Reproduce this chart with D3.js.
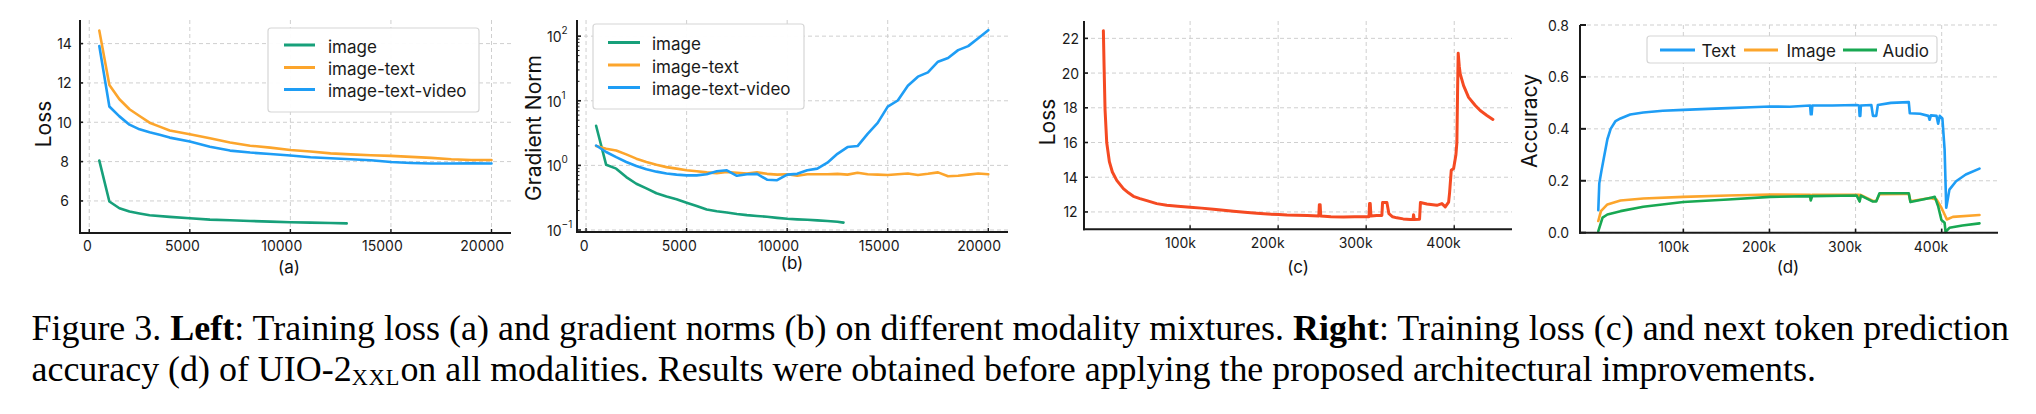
<!DOCTYPE html>
<html>
<head>
<meta charset="utf-8">
<script src="https://cdn.jsdelivr.net/npm/d3@7/dist/d3.min.js"></script>
<style>
  body { margin: 0; background: #fff; }
  svg { display: block; }
  .tick-label { font-family: Inter, 'Noto Sans', sans-serif; font-size: 14px; fill: #1a1a1a; }
  .axis-title { font-family: Inter, 'Noto Sans', sans-serif; font-size: 21px; fill: #111; }
  .sub-label { font-family: Inter, 'Noto Sans', sans-serif; font-size: 17px; fill: #111; }
  .legend-text { font-family: Inter, 'Noto Sans', sans-serif; font-size: 17px; fill: #1a1a1a; }
  .caption { font-family: 'Liberation Serif', 'DejaVu Serif', serif; fill: #000; }
</style>
</head>
<body>
<svg id="fig" width="2036" height="414"></svg>
<script>
////////// Dados

// (a) training loss, modality mixtures
const stepsA = [500, 1000, 1500, 2000, 2500, 3000, 3500, 4000, 5000, 6000, 7000, 8000,
                9000, 10000, 11000, 12000, 13000, 14000, 15000, 16000, 17000, 18000, 19000, 20000];
const lossImageText = [14.66, 11.9, 11.17, 10.66, 10.32, 9.98, 9.78, 9.58, 9.39, 9.19, 8.97, 8.81,
                       8.71, 8.59, 8.51, 8.42, 8.37, 8.32, 8.29, 8.24, 8.19, 8.12, 8.08, 8.08];
const lossImageTextVideo = [13.88, 10.8, 10.3, 9.88, 9.64, 9.49, 9.36, 9.22, 9.02, 8.76, 8.56, 8.46,
                            8.39, 8.31, 8.22, 8.17, 8.12, 8.07, 7.98, 7.93, 7.9, 7.9, 7.92, 7.9];
const stepsImage = [500, 1000, 1500, 2000, 2500, 3000, 4000, 5000, 6000, 7000, 8000, 9000,
                    10000, 11000, 12000, 12800];
const lossImage = [8.05, 5.97, 5.63, 5.46, 5.36, 5.27, 5.19, 5.12, 5.05, 5.02, 4.98, 4.95,
                   4.92, 4.9, 4.88, 4.86];

// (b) gradient norm
const stepsB = [500, 1000, 1500, 2000, 2500, 3000, 3500, 4000, 4500, 5000,
                5500, 6000, 6500, 7000, 7500, 8000, 8500, 9000, 9500, 10000,
                10500, 11000, 11500, 12000, 12500, 13000, 13500, 14000, 14500, 15000,
                15500, 16000, 16500, 17000, 17500, 18000, 18500, 19000, 19500, 20000];
const gradImageText = [1.99, 1.81, 1.70, 1.48, 1.27, 1.13, 1.02, 0.94, 0.89, 0.84,
                       0.81, 0.78, 0.76, 0.79, 0.77, 0.75, 0.78, 0.74, 0.72, 0.73,
                       0.69, 0.73, 0.73, 0.73, 0.74, 0.72, 0.77, 0.73, 0.72, 0.71,
                       0.73, 0.75, 0.71, 0.74, 0.78, 0.68, 0.69, 0.72, 0.75, 0.73];
const gradImageTextVideo = [2.03, 1.61, 1.34, 1.13, 0.98, 0.87, 0.80, 0.75, 0.72, 0.70,
                            0.70, 0.73, 0.81, 0.84, 0.69, 0.73, 0.74, 0.60, 0.59, 0.72,
                            0.74, 0.84, 0.89, 1.10, 1.51, 1.92, 1.99, 3.08, 4.55, 8.13,
                            10.1, 17.1, 23.6, 27.5, 40.2, 45.8, 60.8, 70.1, 93.1, 123.8];
const stepsGradImage = [500, 1000, 1500, 2000, 2500, 3000, 3500, 4000, 4500, 5000,
                        5500, 6000, 6500, 7000, 7500, 8000, 8500, 9000, 9500, 10000,
                        10500, 11000, 11500, 12000, 12500, 12800];
const gradImage = [4.1, 1.02, 0.89, 0.66, 0.52, 0.44, 0.37, 0.33, 0.30, 0.265,
                   0.235, 0.207, 0.195, 0.186, 0.177, 0.17, 0.165, 0.16, 0.154, 0.149,
                   0.146, 0.144, 0.141, 0.138, 0.134, 0.13];

// (c) training loss UIO-2 XXL (steps em milhares)
const stepsC = [1.5, 2.3, 3.4, 5.3, 8.3, 11.7, 16.7, 24.2, 30, 35.6, 43, 50.8, 62.1, 73.5, 86, 100,
                113, 126.5, 138, 149.2, 162, 175.8, 188, 200.8, 210, 221.2, 233, 246.2, 246.8, 247.7,
                248.4, 260, 274.2, 287, 300.8, 303.2, 303.8, 304.6, 305.4, 312, 317.8, 318.6, 323.5,
                325.8, 330, 334.8, 342, 350, 353.2, 353.8, 354.6, 360.6, 361.6, 368.9, 380.3, 386,
                389.8, 393.6, 394.7, 396.6, 399.3, 401.9, 403, 403.8, 404.5, 405.7, 406.8, 410.6,
                416.3, 423.9, 429.5, 437.1, 443.9];
const lossC = [22.44, 20.4, 17.9, 16.0, 14.9, 14.3, 13.82, 13.34, 13.1, 12.9, 12.77, 12.65, 12.48, 12.38, 12.33, 12.27,
               12.22, 12.15, 12.1, 12.04, 11.98, 11.92, 11.88, 11.85, 11.82, 11.81, 11.79, 11.77, 12.42, 12.42,
               11.76, 11.73, 11.71, 11.72, 11.73, 11.73, 12.48, 12.48, 11.76, 11.8, 11.8, 12.54, 12.54,
               11.9, 11.72, 11.66, 11.6, 11.56, 11.56, 11.84, 11.56, 11.58, 12.54, 12.46, 12.38, 12.48,
               12.29, 12.57, 13.1, 14.4, 14.5, 15.3, 16.0, 19.0, 21.14, 20.4, 19.95, 19.28,
               18.6, 18.13, 17.84, 17.56, 17.33];

// (d) next token accuracy (steps em milhares)
const stepsText = [1.25, 2.4, 5, 7.8, 11.8, 15.6, 21.3, 27, 38.3, 53.5, 76.2, 100, 129, 152, 178.3, 201,
                   223.7, 247.2, 248, 249, 249.8, 272.9, 301.3, 304, 304.7, 305.5, 306.2, 318.3, 320.2,
                   324, 325.9, 341, 361.8, 363, 375, 384.5, 386, 387.5, 394, 395.9, 397.8, 400.8,
                   403.4, 405.3, 409, 416.7, 428, 443.9];
const accText = [0.087, 0.19, 0.24, 0.29, 0.36, 0.40, 0.43, 0.44, 0.455, 0.463, 0.47, 0.473, 0.477, 0.48, 0.483, 0.486,
                 0.485, 0.49, 0.456, 0.456, 0.49, 0.49, 0.492, 0.49, 0.45, 0.45, 0.49, 0.492, 0.45,
                 0.45, 0.492, 0.50, 0.503, 0.46, 0.458, 0.45, 0.435, 0.452, 0.45, 0.42, 0.45, 0.44,
                 0.32, 0.096, 0.166, 0.198, 0.224, 0.247];
const stepsImg = [1.25, 4.3, 11.8, 27, 53.5, 100, 152, 201, 247.2, 248, 249.5, 304, 304.7, 305.8,
                  320.2, 324, 327.8, 356, 361.8, 363.7, 386.4, 394, 399.7, 403.4, 406, 413, 443.9];
const accImage = [0.045, 0.083, 0.109, 0.124, 0.132, 0.138, 0.143, 0.147, 0.146, 0.128, 0.146, 0.146, 0.124, 0.146,
                  0.122, 0.122, 0.148, 0.149, 0.149, 0.121, 0.134, 0.128, 0.096, 0.07, 0.051, 0.061, 0.068];
const stepsAudio = [1.25, 6.2, 11.8, 27, 53.5, 100, 152, 201, 247.2, 248, 249.5, 301.3, 304.7, 306.2,
                    320.2, 324, 327.8, 361.8, 363.7, 386.4, 392, 395.9, 399.7, 403.4, 404.5, 409, 424, 443.9];
const accAudio = [0.006, 0.058, 0.07, 0.083, 0.1, 0.118, 0.128, 0.138, 0.141, 0.124, 0.141, 0.143, 0.12, 0.143,
                  0.12, 0.12, 0.152, 0.152, 0.118, 0.134, 0.138, 0.102, 0.049, 0.038, 0.003, 0.019, 0.028, 0.036];

// ticks
const xTicksSteps = [0, 5000, 10000, 15000, 20000];
const yTicksA = [6, 8, 10, 12, 14];
const yTicksB = [0.1, 1, 10, 100];
const yTicksBExp = ['-1', '0', '1', '2'];
const xTicksK = [100, 200, 300, 400];
const xTickLabelsK = ['100k', '200k', '300k', '400k'];
const yTicksC = [12, 14, 16, 18, 20, 22];
const yTicksD = [0, 0.2, 0.4, 0.6, 0.8];

const namesMix = ['image', 'image-text', 'image-text-video'];
const namesMod = ['Text', 'Image', 'Audio'];

////////// Cores
const GREEN = '#17a07a';
const ORANGE = '#fca52c';
const BLUE = '#1e9df5';
const RED = '#f54a22';
const GREEN_D = '#18a852';

const svg = d3.select('#fig');

function zip(xs, ys) { return xs.map((x, i) => [x, ys[i]]); }

function drawPanel(p) {
  const g = svg.append('g');
  const xs = d3.scaleLinear().domain(p.xDomain).range([p.x0, p.x1]);
  const ys = (p.log ? d3.scaleLog() : d3.scaleLinear()).domain(p.yDomain).range([p.y1, p.y0]);

  // grid
  g.selectAll('line.vgrid').data(p.xTicks).enter().append('line')
    .attr('x1', d => xs(d)).attr('x2', d => xs(d))
    .attr('y1', p.y0).attr('y2', p.y1)
    .attr('stroke', '#cfcfcf').attr('stroke-width', 1).attr('stroke-dasharray', '4,3');
  g.selectAll('line.hgrid').data(p.yTicks).enter().append('line')
    .attr('x1', p.x0).attr('x2', p.x1)
    .attr('y1', d => ys(d)).attr('y2', d => ys(d))
    .attr('stroke', '#cfcfcf').attr('stroke-width', 1).attr('stroke-dasharray', '4,3');

  // lines
  const line = d3.line().x(d => xs(d[0])).y(d => ys(d[1]));
  p.series.forEach(s => {
    g.append('path')
      .datum(zip(s.x, s.y))
      .attr('d', line)
      .attr('fill', 'none')
      .attr('stroke', s.color)
      .attr('stroke-width', p.lw)
      .attr('stroke-linejoin', 'round')
      .attr('stroke-linecap', 'round');
  });

  // spines
  g.append('line').attr('x1', p.x0).attr('x2', p.x0).attr('y1', p.y0).attr('y2', p.y1 + 1)
    .attr('stroke', '#1a1a1a').attr('stroke-width', 2);
  g.append('line').attr('x1', p.x0 - 1).attr('x2', p.x1).attr('y1', p.y1).attr('y2', p.y1)
    .attr('stroke', '#1a1a1a').attr('stroke-width', 2);

  // tick marks (inward)
  g.selectAll('line.ytk').data(p.yTicks).enter().append('line')
    .attr('x1', p.x0).attr('x2', p.x0 + p.tickLen)
    .attr('y1', d => ys(d)).attr('y2', d => ys(d))
    .attr('stroke', '#1a1a1a').attr('stroke-width', 1.6);
  g.selectAll('line.xtk').data(p.xTicks).enter().append('line')
    .attr('x1', d => xs(d)).attr('x2', d => xs(d))
    .attr('y1', p.y1).attr('y2', p.y1 - 4)
    .attr('stroke', '#1a1a1a').attr('stroke-width', 1.4);
  if (p.log) {
    const minor = [];
    [0.1, 1, 10].forEach(b => d3.range(2, 10).forEach(m => minor.push(b * m)));
    minor.push(200);
    g.selectAll('line.mtk').data(minor.filter(v => v <= p.yDomain[1])).enter().append('line')
      .attr('x1', p.x0).attr('x2', p.x0 + 2.5)
      .attr('y1', d => ys(d)).attr('y2', d => ys(d))
      .attr('stroke', '#1a1a1a').attr('stroke-width', 1);
  }

  // x tick labels (ligeiramente deslocadas para a esquerda, como no original)
  p.xTicks.forEach((t, i) => {
    const txt = g.append('text').attr('class', 'tick-label')
      .attr('y', p.xLabelY).attr('dominant-baseline', 'central')
      .attr('text-anchor', 'middle')
      .text(p.xLabels[i]);
    const w = txt.node().getComputedTextLength();
    txt.attr('x', xs(t) - p.xShift * w);
  });

  // y tick labels
  p.yTicks.forEach((t, i) => {
    const txt = g.append('text').attr('class', 'tick-label')
      .attr('x', p.yLabelX).attr('y', ys(t))
      .attr('dominant-baseline', 'central')
      .attr('text-anchor', p.log ? 'start' : 'middle');
    if (p.log) {
      txt.append('tspan').text('10');
      txt.append('tspan').attr('dy', -6).attr('font-size', 10).text(p.yLabels[i].replace('-', '\u2212'));
    } else {
      txt.text(p.yLabels[i]);
    }
  });

  // axis title
  g.append('text').attr('class', 'axis-title')
    .attr('transform', `translate(${p.titleX},${p.titleY}) rotate(-90)`)
    .attr('text-anchor', 'middle').attr('dominant-baseline', 'central')
    .text(p.title);

  // sub label
  g.append('text').attr('class', 'sub-label')
    .attr('x', p.subX).attr('y', p.subY)
    .attr('text-anchor', 'middle').attr('dominant-baseline', 'central')
    .text(p.sub);

  // legend
  const L = p.legend;
  g.append('rect')
    .attr('x', L.box[0]).attr('y', L.box[1])
    .attr('width', L.box[2] - L.box[0]).attr('height', L.box[3] - L.box[1])
    .attr('rx', 3).attr('fill', '#fff').attr('fill-opacity', 0.95)
    .attr('stroke', '#d6d6d6').attr('stroke-width', 1.2);
  L.items.forEach((it, i) => {
    const s = p.series[i];
    g.append('line')
      .attr('x1', it.lx0).attr('x2', it.lx1).attr('y1', it.y).attr('y2', it.y)
      .attr('stroke', s.color).attr('stroke-width', 3);
    g.append('text').attr('class', 'legend-text')
      .attr('x', it.tx).attr('y', it.y + 1.5)
      .attr('dominant-baseline', 'central')
      .text(s.name);
  });
}

// (a)
drawPanel({
  x0: 80, x1: 511, y0: 20, y1: 233,
  xDomain: [-460, 20970], yDomain: [4.37, 15.2],
  xTicks: xTicksSteps, xLabels: xTicksSteps.map(String), xLabelY: 245, xShift: 0.21,
  yTicks: yTicksA, yLabels: yTicksA.map(String), yLabelX: 64.5,
  tickLen: 3, lw: 2.6,
  title: 'Loss', titleX: 43, titleY: 124,
  sub: '(a)', subX: 289, subY: 267,
  series: [
    { name: namesMix[0], color: GREEN, x: stepsImage, y: lossImage },
    { name: namesMix[1], color: ORANGE, x: stepsA, y: lossImageText },
    { name: namesMix[2], color: BLUE, x: stepsA, y: lossImageTextVideo }
  ],
  legend: {
    box: [268, 28, 479, 112],
    items: [
      { y: 45, lx0: 284, lx1: 315, tx: 328 },
      { y: 67.5, lx0: 284, lx1: 315, tx: 328 },
      { y: 89.5, lx0: 284, lx1: 315, tx: 328 }
    ]
  }
});

// (b)
drawPanel({
  x0: 577, x1: 1008, y0: 20, y1: 232,
  xDomain: [-450, 20980], yDomain: [Math.pow(10, -1.031), Math.pow(10, 2.25)], log: true,
  xTicks: xTicksSteps, xLabels: xTicksSteps.map(String), xLabelY: 245, xShift: 0.21,
  yTicks: yTicksB, yLabels: yTicksBExp, yLabelX: 547,
  tickLen: 4, lw: 2.6,
  title: 'Gradient Norm', titleX: 533, titleY: 128,
  sub: '(b)', subX: 792, subY: 263,
  series: [
    { name: namesMix[0], color: GREEN, x: stepsGradImage, y: gradImage },
    { name: namesMix[1], color: ORANGE, x: stepsB, y: gradImageText },
    { name: namesMix[2], color: BLUE, x: stepsB, y: gradImageTextVideo }
  ],
  legend: {
    box: [593, 24, 804, 109],
    items: [
      { y: 42.5, lx0: 608, lx1: 640, tx: 652 },
      { y: 65, lx0: 608, lx1: 640, tx: 652 },
      { y: 87.5, lx0: 608, lx1: 640, tx: 652 }
    ]
  }
});

// (c)
(function () {
  const xs = d3.scaleLinear().domain([-20.5, 465.6]).range([1084, 1512]);
  const ys = d3.scaleLinear().domain([11, 23]).range([229.3, 21]);
  const g = svg.append('g');
  g.selectAll('line.vgrid').data(xTicksK).enter().append('line')
    .attr('x1', d => xs(d)).attr('x2', d => xs(d)).attr('y1', 21).attr('y2', 229.3)
    .attr('stroke', '#cfcfcf').attr('stroke-dasharray', '4,3');
  g.selectAll('line.hgrid').data(yTicksC).enter().append('line')
    .attr('x1', 1084).attr('x2', 1512).attr('y1', d => ys(d)).attr('y2', d => ys(d))
    .attr('stroke', '#cfcfcf').attr('stroke-dasharray', '4,3');
  g.append('path').datum(zip(stepsC, lossC))
    .attr('d', d3.line().x(d => xs(d[0])).y(d => ys(d[1])))
    .attr('fill', 'none').attr('stroke', RED).attr('stroke-width', 3)
    .attr('stroke-linejoin', 'round').attr('stroke-linecap', 'round');
  g.append('line').attr('x1', 1084).attr('x2', 1084).attr('y1', 21).attr('y2', 230.3)
    .attr('stroke', '#1a1a1a').attr('stroke-width', 2);
  g.append('line').attr('x1', 1083).attr('x2', 1512).attr('y1', 229.3).attr('y2', 229.3)
    .attr('stroke', '#1a1a1a').attr('stroke-width', 2);
  g.selectAll('line.ytk').data(yTicksC).enter().append('line')
    .attr('x1', 1084).attr('x2', 1088).attr('y1', d => ys(d)).attr('y2', d => ys(d))
    .attr('stroke', '#1a1a1a').attr('stroke-width', 1.6);
  g.selectAll('line.xtk').data(xTicksK).enter().append('line')
    .attr('x1', d => xs(d)).attr('x2', d => xs(d)).attr('y1', 229.3).attr('y2', 225.3)
    .attr('stroke', '#1a1a1a').attr('stroke-width', 1.4);
  xTicksK.forEach((t, i) => {
    const txt = g.append('text').attr('class', 'tick-label').attr('y', 242)
      .attr('dominant-baseline', 'central').attr('text-anchor', 'middle').text(xTickLabelsK[i]);
    txt.attr('x', xs(t) - 0.31 * txt.node().getComputedTextLength());
  });
  yTicksC.forEach(t => {
    g.append('text').attr('class', 'tick-label').attr('x', 1070.5).attr('y', ys(t))
      .attr('dominant-baseline', 'central').attr('text-anchor', 'middle').text(t);
  });
  g.append('text').attr('class', 'axis-title')
    .attr('transform', 'translate(1047,122) rotate(-90)')
    .attr('text-anchor', 'middle').attr('dominant-baseline', 'central').text('Loss');
  g.append('text').attr('class', 'sub-label').attr('x', 1298).attr('y', 267)
    .attr('text-anchor', 'middle').attr('dominant-baseline', 'central').text('(c)');
})();

// (d)
(function () {
  const x0 = 1580, x1 = 1998, y0 = 25, y1 = 232.7;
  const xs = d3.scaleLinear().domain([-20, 465.4]).range([x0, x1]);
  const ys = d3.scaleLinear().domain([0, 0.8]).range([y1, y0]);
  const g = svg.append('g');
  g.selectAll('line.vgrid').data(xTicksK).enter().append('line')
    .attr('x1', d => xs(d)).attr('x2', d => xs(d)).attr('y1', y0).attr('y2', y1)
    .attr('stroke', '#cfcfcf').attr('stroke-dasharray', '4,3');
  g.selectAll('line.hgrid').data(yTicksD).enter().append('line')
    .attr('x1', x0).attr('x2', x1).attr('y1', d => ys(d)).attr('y2', d => ys(d))
    .attr('stroke', '#cfcfcf').attr('stroke-dasharray', '4,3');
  const line = d3.line().x(d => xs(d[0])).y(d => ys(d[1]));
  const series = [
    { name: namesMod[0], color: BLUE, x: stepsText, y: accText },
    { name: namesMod[1], color: ORANGE, x: stepsImg, y: accImage },
    { name: namesMod[2], color: GREEN_D, x: stepsAudio, y: accAudio }
  ];
  series.forEach(s => {
    g.append('path').datum(zip(s.x, s.y)).attr('d', line)
      .attr('fill', 'none').attr('stroke', s.color).attr('stroke-width', 2.6)
      .attr('stroke-linejoin', 'round').attr('stroke-linecap', 'round');
  });
  g.append('line').attr('x1', x0).attr('x2', x0).attr('y1', y0).attr('y2', y1 + 1)
    .attr('stroke', '#1a1a1a').attr('stroke-width', 2);
  g.append('line').attr('x1', x0 - 1).attr('x2', x1).attr('y1', y1).attr('y2', y1)
    .attr('stroke', '#1a1a1a').attr('stroke-width', 2);
  g.selectAll('line.ytk').data(yTicksD).enter().append('line')
    .attr('x1', x0).attr('x2', x0 + 6).attr('y1', d => ys(d)).attr('y2', d => ys(d))
    .attr('stroke', '#1a1a1a').attr('stroke-width', 2);
  g.selectAll('line.xtk').data(xTicksK).enter().append('line')
    .attr('x1', d => xs(d)).attr('x2', d => xs(d)).attr('y1', y1).attr('y2', y1 - 4)
    .attr('stroke', '#1a1a1a').attr('stroke-width', 1.6);
  xTicksK.forEach((t, i) => {
    const txt = g.append('text').attr('class', 'tick-label').attr('y', 246)
      .attr('dominant-baseline', 'central').attr('text-anchor', 'middle').text(xTickLabelsK[i]);
    txt.attr('x', xs(t) - 0.31 * txt.node().getComputedTextLength());
  });
  yTicksD.forEach(t => {
    g.append('text').attr('class', 'tick-label').attr('x', 1558.5).attr('y', ys(t))
      .attr('dominant-baseline', 'central').attr('text-anchor', 'middle').text(d3.format('.1f')(t));
  });
  g.append('text').attr('class', 'axis-title')
    .attr('transform', 'translate(1529,121) rotate(-90)')
    .attr('text-anchor', 'middle').attr('dominant-baseline', 'central').text('Accuracy');
  g.append('text').attr('class', 'sub-label').attr('x', 1788).attr('y', 267)
    .attr('text-anchor', 'middle').attr('dominant-baseline', 'central').text('(d)');

  // legend horizontal
  g.append('rect').attr('x', 1647).attr('y', 36).attr('width', 290).attr('height', 27)
    .attr('rx', 3).attr('fill', '#fff').attr('stroke', '#d6d6d6').attr('stroke-width', 1.2);
  const items = [
    { lx0: 1660, lx1: 1695, tx: 1701.5 },
    { lx0: 1744, lx1: 1778, tx: 1786.5 },
    { lx0: 1843, lx1: 1877, tx: 1882.5 }
  ];
  items.forEach((it, i) => {
    g.append('line').attr('x1', it.lx0).attr('x2', it.lx1).attr('y1', 50).attr('y2', 50)
      .attr('stroke', series[i].color).attr('stroke-width', 3);
    g.append('text').attr('class', 'legend-text').attr('x', it.tx).attr('y', 50.5)
      .attr('dominant-baseline', 'central').text(series[i].name);
  });
})();

////////// Legenda da figura
(function () {
  const left = 31.5, right = 2009, line2End = 1817;
  const cap = svg.append('g').attr('class', 'caption');

  const l2 = cap.append('text').attr('x', left).attr('y', 380.7).attr('font-size', 30);
  l2.append('tspan').text('accuracy (d) of UIO-2');
  l2.append('tspan').attr('font-size', '0.62em').attr('dy', 4).attr('letter-spacing', 1).text('XXL');
  l2.append('tspan').attr('dy', -4).text('on all modalities. Results were obtained before applying the proposed architectural improvements.');
  const fs = 30 * (line2End - left) / l2.node().getComputedTextLength();
  l2.attr('font-size', fs);

  const l1 = cap.append('text').attr('x', left).attr('y', 340).attr('font-size', fs);
  l1.append('tspan').text('Figure 3. ');
  l1.append('tspan').attr('font-weight', 'bold').text('Left');
  l1.append('tspan').text(': Training loss (a) and gradient norms (b) on different modality mixtures. ');
  l1.append('tspan').attr('font-weight', 'bold').text('Right');
  l1.append('tspan').text(': Training loss (c) and next token prediction');
  const natural = l1.node().getComputedTextLength();
  const spaces = (l1.text().match(/ /g) || []).length;
  l1.attr('word-spacing', (right - left - natural) / spaces);
})();
</script>
</body>
</html>
